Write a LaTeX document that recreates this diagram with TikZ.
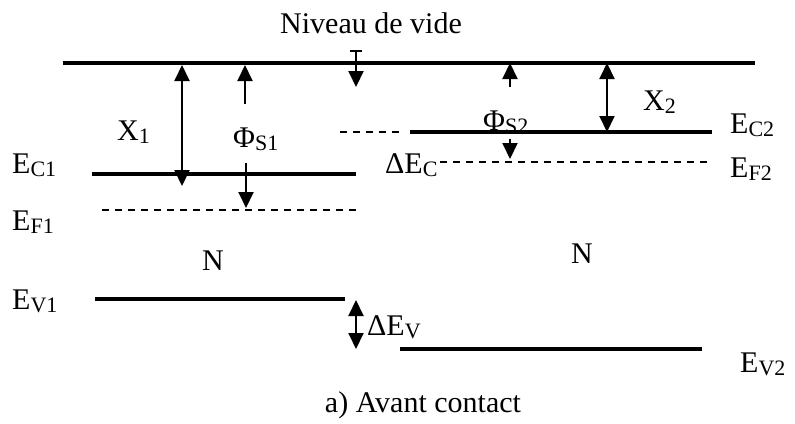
\documentclass[tikz,border=0pt]{standalone}
\usepackage{fontspec}
\setmainfont{Liberation Serif}
\usetikzlibrary{arrows.meta}
\newcommand\lsub[1]{\raisebox{-3pt}{\fontsize{22}{22}\selectfont #1}}
\begin{document}
\begin{tikzpicture}[x=1pt,y=-1pt]

\def\hd{Triangle[width=15pt,length=16pt]}
\tikzstyle{band} = [line width=3.5pt];
\tikzstyle{fermi} = [line width=2.2pt, dash pattern=on 7pt off 6pt];
\tikzstyle{arr} = [line width=2pt, -{\hd}];
\tikzstyle{dblarr} = [line width=2pt, {\hd}-{\hd}];
\tikzstyle{lbl} = [inner sep=0pt, anchor=base west, font=\fontsize{30}{36}\selectfont];
\useasboundingbox (0,0) rectangle (795,423);

% niveaux
\coordinate (vacL) at (63,63);   \coordinate (vacR) at (755,63);
\coordinate (ec1L) at (92,174);  \coordinate (ec1R) at (356,174);
\coordinate (ef1L) at (102,210); \coordinate (ef1R) at (356,210);
\coordinate (ev1L) at (95,299);  \coordinate (ev1R) at (345,299);
\coordinate (ecdL) at (340,132); \coordinate (ecdR) at (404,132);
\coordinate (ec2L) at (410,132); \coordinate (ec2R) at (712,132);
\coordinate (ef2L) at (440,162); \coordinate (ef2R) at (712,162);
\coordinate (ev2L) at (400,349); \coordinate (ev2R) at (702,349);

\draw[band] (vacL) -- (vacR);
\draw[band] (ec1L) -- (ec1R);
\draw[fermi] (ef1L) -- (ef1R);
\draw[band] (ev1L) -- (ev1R);
\draw[fermi] (ecdL) -- (ecdR);
\draw[band] (ec2L) -- (ec2R);
\draw[fermi] (ef2L) -- (ef2R);
\draw[band] (ev2L) -- (ev2R);

% fleches
\coordinate (x1a) at (182,65);  \coordinate (x1b) at (182,186);
\coordinate (p1a) at (245,104); \coordinate (p1b) at (245,65);
\coordinate (p1c) at (246,163); \coordinate (p1d) at (246,208);
\coordinate (nva) at (356,50);  \coordinate (nvb) at (356,87);
\coordinate (p2a) at (510,87);  \coordinate (p2b) at (510,63);
\coordinate (p2c) at (510,139); \coordinate (p2d) at (510,159);
\coordinate (x2a) at (607,63);  \coordinate (x2b) at (607,132);
\coordinate (dva) at (356,300); \coordinate (dvb) at (356,349);

\draw[dblarr] (x1a) -- (x1b);
\draw[arr] (p1a) -- (p1b);
\draw[arr] (p1c) -- (p1d);
\draw[arr, {Bar[width=12pt]}-{\hd}] (nva) -- (nvb);
\draw[arr] (p2a) -- (p2b);
\draw[arr] (p2c) -- (p2d);
\draw[dblarr] (x2a) -- (x2b);
\draw[dblarr] (dva) -- (dvb);

% textes
\node[lbl, anchor=base] (vide) at (371,33) {Niveau de vide};
\node[lbl] (x1) at (117,140) {X\lsub{1}};
\node[lbl] (phi1) at (233,147) {Φ\lsub{S1}};
\node[lbl] (ec1) at (12,173) {E\lsub{C1}};
\node[lbl] (ef1) at (12,230) {E\lsub{F1}};
\node[lbl] (ev1) at (12,309) {E\lsub{V1}};
\node[lbl, anchor=base] (n1) at (213,270) {N};
\node[lbl, anchor=base] (n2) at (582,263) {N};
\node[lbl] (dev) at (367,335) {ΔE\lsub{V}};
\node[lbl] (ev2) at (740,372) {E\lsub{V2}};
\node[lbl] (phi2) at (483,130) {Φ\lsub{S2}};
\node[lbl] (x2) at (643,110) {X\lsub{2}};
\node[lbl] (ec2) at (730,133) {E\lsub{C2}};
\node[lbl] (ef2) at (730,177) {E\lsub{F2}};
\node[lbl] (dec) at (385,173) {ΔE\lsub{C}};
\node[lbl, anchor=base] (titre) at (423,412) {a) Avant contact};

\end{tikzpicture}
\end{document}
